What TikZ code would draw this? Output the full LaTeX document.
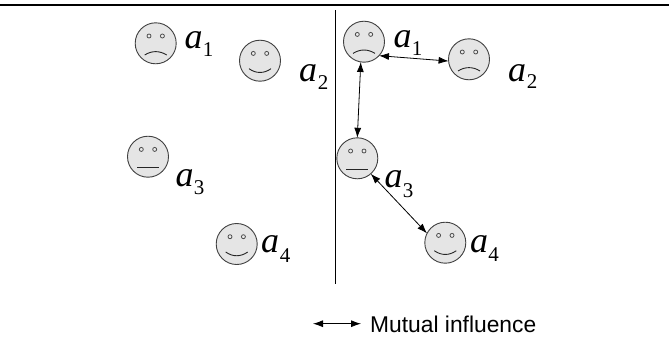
\documentclass[tikz,border=0pt]{standalone}
\usepackage{fontspec}
\setmainfont{Liberation Serif}
\setsansfont{Liberation Sans}
\usetikzlibrary{arrows.meta,calc}
\tikzset{
  x=1pt,y=-1pt,
  face/.style={circle,draw=black!75,fill=black!10,line width=0.9pt,minimum size=41pt,inner sep=0pt,outer sep=0pt},
  eye/.style={draw=black!70,fill=black!8,line width=0.8pt},
  mouth/.style={draw=black!85,line width=0.9pt},
  agent/.style={inner sep=0pt,anchor=base,font=\fontsize{36}{36}\selectfont\itshape},
  idx/.style={inner sep=0pt,anchor=base,font=\fontsize{21}{21}\selectfont},
  link/.style={{Latex[length=10pt,width=7pt]}-{Latex[length=10pt,width=7pt]},line width=0.8pt,black},
  rule/.style={black,line width=1pt}
}
\newcommand{\facebase}[3]{%
  \node[face] (#1) at (#2,#3) {};
  \draw[eye] ($(#1.center)+(-6.7,-7.3)$) circle[radius=2];
  \draw[eye] ($(#1.center)+(6.7,-7.3)$) circle[radius=2];}
\newcommand{\sadface}[3]{\facebase{#1}{#2}{#3}%
  \draw[mouth] ($(#1.center)+(-11,11.7)$) .. controls ($(#1.center)+(-4,7.2)$) and ($(#1.center)+(4,7.2)$) .. ($(#1.center)+(11,11.7)$);}
\newcommand{\happyface}[3]{\facebase{#1}{#2}{#3}%
  \draw[mouth] ($(#1.center)+(-11,8)$) .. controls ($(#1.center)+(-4,13)$) and ($(#1.center)+(4,13)$) .. ($(#1.center)+(11,8)$);}
\newcommand{\flatface}[3]{\facebase{#1}{#2}{#3}%
  \draw[mouth] ($(#1.center)+(-11,11)$) -- ($(#1.center)+(11,11)$);}
\begin{document}
\begin{tikzpicture}
\useasboundingbox (0,0) rectangle (669,351);
\fill[white] (0,0) rectangle (669,351);
\coordinate (topl) at (0,5);
\coordinate (topr) at (669,5);
\draw[black,line width=2pt] (topl) -- (topr);
\coordinate (divt) at (335,10);
\coordinate (divb) at (335,284);
\draw[rule] (divt) -- (divb);
% left
\sadface{la}{155.7}{43.3}
\happyface{lb}{260}{60.7}
\flatface{lc}{148}{156.7}
\happyface{ld}{236.7}{244}
% right
\sadface{ra}{364}{41.7}
\sadface{rb}{469}{59.3}
\flatface{rc}{357.3}{158.3}
\happyface{rd}{445.3}{242.7}
% labels
\node[agent] (t1) at (193.5,48) {a}; \node[idx] (s1) at (208,56) {1};
\node[agent] (t2) at (308,81) {a}; \node[idx] (s2) at (323,89) {2};
\node[agent] (t3) at (184.5,186) {a}; \node[idx] (s3) at (199,194) {3};
\node[agent] (t4) at (270,252) {a}; \node[idx] (s4) at (285,262) {4};
\node[agent] (t5) at (402.5,47) {a}; \node[idx] (s5) at (417,55) {1};
\node[agent] (t6) at (517,81) {a}; \node[idx] (s6) at (532,88) {2};
\node[agent] (t7) at (393.5,187) {a}; \node[idx] (s7) at (408,197) {3};
\node[agent] (t8) at (479,252) {a}; \node[idx] (s8) at (493.5,261) {4};
% connectors
\draw[link] (ra.-43) -- (rb.185);
\draw[link] (ra.-99) -- (rc.90);
\draw[link] (rc.-49) -- (rd.153);
% legend
\coordinate (lgl) at (313,323.7);
\coordinate (lgr) at (361,323.7);
\draw[link] (lgl) -- (lgr);
\node[inner sep=0pt,anchor=base west,font=\fontsize{22.8}{22.8}\selectfont\sffamily] (lgt) at (370,332) {Mutual influence};
\end{tikzpicture}
\end{document}
